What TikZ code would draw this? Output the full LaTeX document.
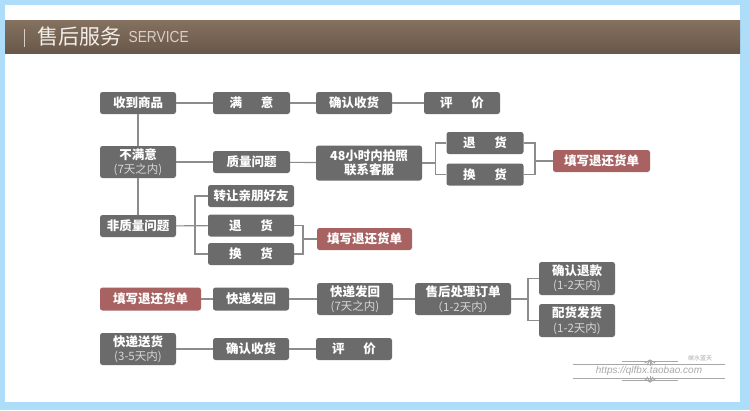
\documentclass[tikz,border=0pt]{standalone}
\usepackage{fontspec}
\usepackage{graphicx}
\setmainfont{Noto Sans CJK SC}
\newfontfamily\latinfont{Liberation Sans}
\usetikzlibrary{calc}
\definecolor{skyblue}{HTML}{ADDDF8}
\definecolor{headtop}{HTML}{84715F}
\definecolor{headbot}{HTML}{69584A}
\definecolor{headtext}{HTML}{F4EFEA}
\definecolor{headsub}{HTML}{D9CFC5}
\definecolor{boxgray}{HTML}{6B6B6B}
\definecolor{boxred}{HTML}{A86262}
\definecolor{linegray}{HTML}{8C8C8C}
\definecolor{subtext}{HTML}{D6D6D6}
\definecolor{mark}{HTML}{A8A8A8}
\tikzset{
  box/.style={rectangle, rounded corners=2.5pt, fill=boxgray, text=white, inner sep=0pt,
    minimum width=76, minimum height=22, align=center,
    font=\fontsize{12.5}{14.5}\selectfont\bfseries},
  redbox/.style={box, fill=boxred},
  tall/.style={minimum height=32},
  conn/.style={draw=linegray, line width=1.1pt},
  thin/.style={draw=mark, line width=0.8pt},
}
\newcommand{\subline}[1]{{\mdseries\fontsize{11.5}{13}\selectfont\color{subtext}#1}}
\newcommand{\gap}{\hspace{1.5em}}

\begin{document}
\begin{tikzpicture}[x=1pt,y=-1pt]
  \useasboundingbox (0,0) rectangle (750,410);
  \fill[skyblue] (0,0) rectangle (750,410);
  \fill[white] (5,5) rectangle (740,402);
  \shade[top color=headtop, bottom color=headbot] (5,20) rectangle (740,53);
  \draw[headsub, line width=0.8pt] (24,29) -- (24,47);
  \node[anchor=west, text=headtext, font=\fontsize{21}{21}\selectfont] (title) at (34,37) {售后服务};
  \node[anchor=west, text=headsub, font=\latinfont\fontsize{16}{16}\selectfont] (titleen) at (title.east) {\scalebox{0.86}[1]{SERVICE}};

  \node[box] (recv) at (138,103) {收到商品};
  \node[box, minimum width=77] (satis) at (251.5,103) {满\gap 意};
  \node[box] (confirmA) at (354,103) {确认收货};
  \node[box] (reviewA) at (462,103) {评\gap 价};

  \node[box, tall] (unsat) at (138,162) {不满意\\\subline{(7天之内)}};
  \node[box, minimum width=77] (quality) at (251.5,162) {质量问题};
  \node[box, minimum width=106, minimum height=35] (photo) at (369,163) {48小时内拍照\\联系客服};
  \node[box, minimum width=77] (retA) at (485,143) {退\gap 货};
  \node[box, minimum width=77] (exchA) at (485,174.5) {换\gap 货};
  \node[redbox, minimum width=97] (formA) at (601.5,161) {填写退还货单};

  \node[box] (nonq) at (138,226) {非质量问题};
  \node[box, minimum width=86] (transfer) at (251,196) {转让亲朋好友};
  \node[box, minimum width=86] (retB) at (251,225.5) {退\gap 货};
  \node[box, minimum width=86] (exchB) at (251,254) {换\gap 货};
  \node[redbox, minimum width=95] (formB) at (364.5,239) {填写退还货单};

  \node[redbox, minimum width=101, minimum height=23] (formC) at (150.5,299) {填写退还货单};
  \node[box, minimum height=23] (shipA) at (251,299) {快递发回};
  \node[box, tall] (shipB) at (355,299) {快递发回\\\subline{(7天之内)}};
  \node[box, tall, minimum width=96] (process) at (463,299) {售后处理订单\\\subline{（1-2天内）}};
  \node[box, minimum height=33] (refund) at (577,278.5) {确认退款\\\subline{(1-2天内)}};
  \node[box, minimum height=33] (deliver) at (577,320.5) {配货发货\\\subline{(1-2天内)}};

  \node[box, tall] (express) at (138,349) {快递送货\\\subline{(3-5天内)}};
  \node[box] (confirmB) at (251,349) {确认收货};
  \node[box] (reviewB) at (354,349) {评\gap 价};

  \coordinate (brA) at ($(photo.east)+(13,0)$);
  \coordinate (brB) at (535,161);
  \coordinate (brC) at (195,226);
  \coordinate (brD) at (303,239);
  \coordinate (brE) at (528,299);

  \foreach \a/\b in {recv/satis,satis/confirmA,confirmA/reviewA,unsat/quality,quality/photo,
    nonq/retB,formC/shipA,shipA/shipB,shipB/process,express/confirmB,confirmB/reviewB}
    \draw[conn] (\a) -- (\b);
  \draw[conn] (recv) -- (unsat);
  \draw[conn] (unsat) -- (nonq);
  \draw[conn] (photo.east) -- (brA);
  \draw[conn] (retA.west) -| (brA) |- (exchA.west);
  \draw[conn] (retA.east) -| (brB) |- (exchA.east);
  \draw[conn] (brB) -- (formA.west);
  \draw[conn] (transfer.west) -| (brC) |- (exchB.west);
  \draw[conn] (retB.east) -| (brD) |- (exchB.east);
  \draw[conn] (brD) -- (formB.west);
  \draw[conn] (process.east) -- (brE);
  \draw[conn] (refund.west) -| (brE) |- (deliver.west);

  \draw[thin] (573,364) -- (725,364);
  \draw[thin] (573,378) -- (725,378);
  \draw[thin, line width=1.4pt] (622,361.5) -- (678,361.5);
  \draw[thin, line width=1.4pt] (622,380.5) -- (678,380.5);
  \foreach \ang in {30,60,90,120,150}
    \draw[thin, line width=1pt] (650,360) -- ++(\ang:6);
  \foreach \ang in {-30,-60,-90,-120,-150}
    \draw[thin, line width=1pt] (650,382) -- ++(\ang:6);
  \node[text=mark, font=\fontsize{6}{6}\selectfont] (brand) at (700,358) {峡水蓝天};
  \node[text=mark, font=\latinfont\itshape\fontsize{10}{10}\selectfont] (shop) at (649,371) {https://qlfbx.taobao.com};
\end{tikzpicture}
\end{document}
